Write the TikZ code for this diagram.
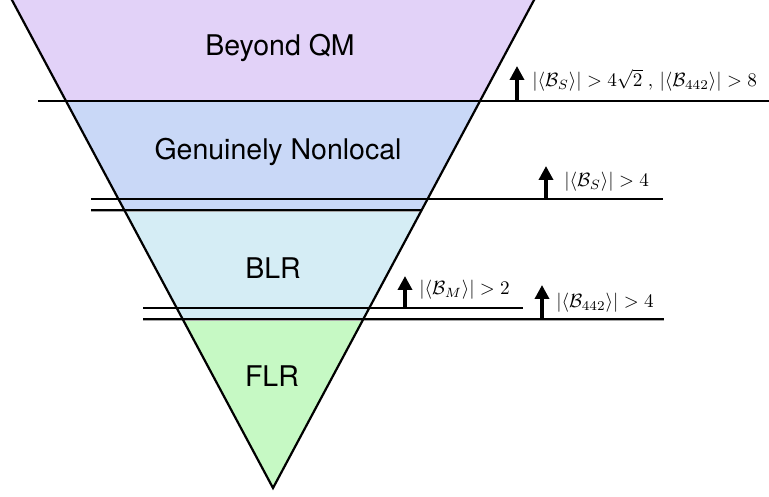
\documentclass[tikz,border=0pt]{standalone}
\usepackage{fontspec}
\setmainfont{TeX Gyre Heros}
\usetikzlibrary{arrows.meta}
\definecolor{cpurple}{RGB}{226,210,248}
\definecolor{cblue}{RGB}{201,216,247}
\definecolor{ccyan}{RGB}{213,237,245}
\definecolor{cgreen}{RGB}{198,249,196}
\tikzset{
  region/.style={font=\fontsize{28.5}{32}\selectfont, inner sep=0pt},
  cond/.style={scale=1.92, transform shape, anchor=west, inner sep=0pt},
  level/.style={line width=2pt, black},
  shade/.style={line width=1pt, black!35},
  uparrow/.style={line width=3.4pt, -{Triangle[width=14pt,length=14pt]}},
  edge/.style={line width=2.2pt, line join=miter}
}
\begin{document}
\begin{tikzpicture}[x=1pt,y=-1pt]
\useasboundingbox (0,0) rectangle (769,497);
\clip (0,0) rectangle (769,497);
% triangle corners
\coordinate (apex) at (273,488);
\coordinate (tl) at (6.6,-10);
\coordinate (tr) at (539.4,-10);
\coordinate (l1) at (66,101);   \coordinate (r1) at (480,101);
\coordinate (l2) at (124.3,210); \coordinate (r2) at (421.7,210);
\coordinate (l3) at (182.6,319); \coordinate (r3) at (363.4,319);
% fills
\fill[cpurple] (tl) -- (tr) -- (r1) -- (l1) -- cycle;
\fill[cblue] (l1) -- (r1) -- (r2) -- (l2) -- cycle;
\fill[ccyan] (l2) -- (r2) -- (r3) -- (l3) -- cycle;
\fill[cgreen] (l3) -- (r3) -- (apex) -- cycle;
% level lines
\coordinate (a1) at (38,101);  \coordinate (b1) at (769,101);
\coordinate (a2) at (91,199);  \coordinate (b2) at (663,199);
\coordinate (a3) at (91,209.6); \coordinate (b3) at (421,209.6);
\coordinate (a3s) at (91,211.4); \coordinate (b3s) at (421,211.4);
\coordinate (a4) at (143,308); \coordinate (b4) at (523,308);
\coordinate (a5) at (143,318.6); \coordinate (b5) at (664,318.6);
\coordinate (a5s) at (143,320.4); \coordinate (b5s) at (664,320.4);
\draw[shade] (a3s) -- (b3s);
\draw[shade] (a5s) -- (b5s);
\draw[level] (a1) -- (b1);
\draw[level] (a2) -- (b2);
\draw[level] (a3) -- (b3);
\draw[level] (a4) -- (b4);
\draw[level] (a5) -- (b5);
% triangle outline
\draw[edge] (tl) -- (apex) -- (tr);
% region labels
\node[region] (bqm) at (280,48) {Beyond QM};
\node[region] (gnl) at (278,152) {Genuinely Nonlocal};
\node[region] (blr) at (273,268) {BLR};
\node[region] (flr) at (272,376) {FLR};
% arrows
\coordinate (s1) at (517,101); \coordinate (e1) at (517,66);
\coordinate (s2) at (546,199); \coordinate (e2) at (546,166);
\coordinate (s3) at (405,308); \coordinate (e3) at (405,276);
\coordinate (s4) at (542,319); \coordinate (e4) at (542,285);
\draw[uparrow] (s1) -- (e1);
\draw[uparrow] (s2) -- (e2);
\draw[uparrow] (s3) -- (e3);
\draw[uparrow] (s4) -- (e4);
% conditions
\node[cond] (c1) at (532,80) {$|\langle\mathcal{B}_S\rangle|>4\sqrt{2}\ ,\,|\langle\mathcal{B}_{442}\rangle|>8$};
\node[cond] (c2) at (564,182) {$|\langle\mathcal{B}_S\rangle|>4$};
\node[cond] (c3) at (419,290) {$|\langle\mathcal{B}_M\rangle|>2$};
\node[cond] (c4) at (556,303) {$|\langle\mathcal{B}_{442}\rangle|>4$};
\end{tikzpicture}
\end{document}
